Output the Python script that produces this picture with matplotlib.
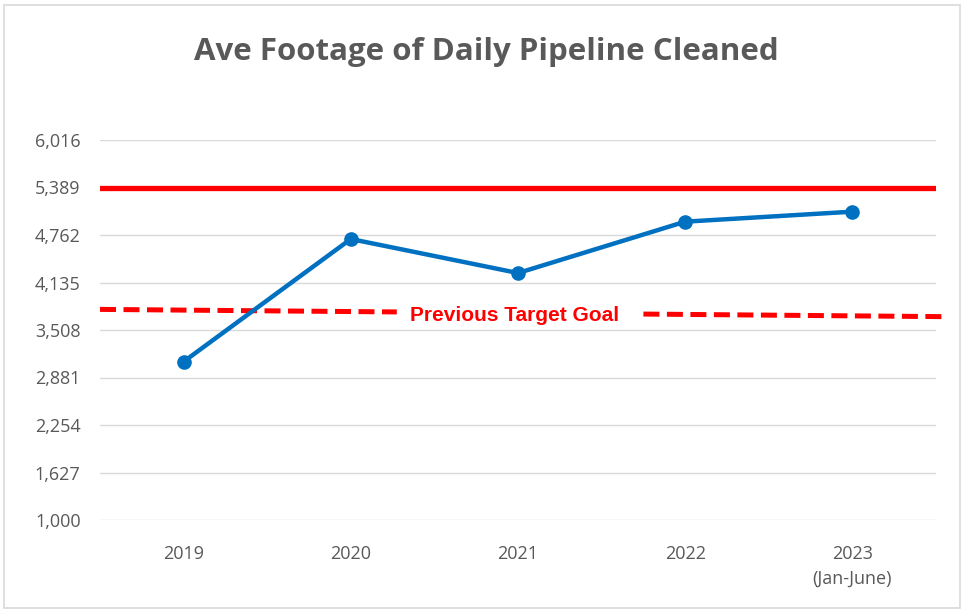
import matplotlib.pyplot as plt
from matplotlib.patches import Rectangle

# --- dados ---
anos = ["2019", "2020", "2021", "2022", "2023\n(Jan-June)"]
footage = [3090, 4709, 4260, 4938, 5070]
y_ticks = [1000, 1627, 2254, 2881, 3508, 4135, 4762, 5389, 6016]
meta_atual = 5389
meta_anterior = [3780, 3684]   # inicio e fim da linha tracejada (levemente inclinada)
# -------------

fig = plt.figure(figsize=(9.67, 6.11), dpi=100)
ax = fig.add_axes([100 / 967, 1 - 520 / 611, 836 / 967, 380 / 611])

# moldura do grafico
fig.patches.append(Rectangle((4 / 967, 3 / 611), 956 / 967, 603 / 611, transform=fig.transFigure,
                             fill=False, edgecolor="#D9D9D9", linewidth=1.2))

x = list(range(len(anos)))
ax.set_xlim(-0.5, len(anos) - 0.5)
ax.set_ylim(y_ticks[0], y_ticks[-1])
ax.set_yticks(y_ticks)
ax.set_yticklabels([f"{v:,}" for v in y_ticks])
ax.set_xticks(x)
ax.set_xticklabels(anos, linespacing=1.5)
ax.grid(axis="y", color="#D9D9D9", linewidth=1.0)
ax.set_axisbelow(True)
for s in ax.spines.values():
    s.set_visible(False)
ax.tick_params(length=0, labelsize=13, labelcolor="#595959", pad=18)
ax.tick_params(axis="y", pad=14)
for lab in ax.get_xticklabels() + ax.get_yticklabels():
    lab.set_fontfamily("Open Sans")

# meta atual (linha vermelha solida)
ax.axhline(meta_atual, color="#FF0000", linewidth=3.8, zorder=2)

# meta anterior (tracejada com texto no meio)
x0, x1 = -0.5, 4.56
def y_meta(xx):
    return meta_anterior[0] + (meta_anterior[1] - meta_anterior[0]) * (xx - x0) / (x1 - x0)
for a, b in [(x0, 1.275), (2.75, x1)]:
    ax.plot([a, b], [y_meta(a), y_meta(b)], color="#FF0000", linewidth=3.6,
            dashes=(3.2, 1.5), clip_on=False, zorder=2)
ax.text(1.98, y_meta(1.98) - 35, "Previous Target Goal", color="#FF0000", fontsize=15,
        fontweight="bold", family="Liberation Sans", ha="center", va="center")

# serie principal
ax.plot(x, footage, color="#0070C0", linewidth=3.2, marker="o", markersize=9.5, zorder=3)

fig.text(486 / 967, 1 - 52 / 611, "Ave Footage of Daily Pipeline Cleaned", ha="center", va="center",
         fontsize=22.5, fontweight="bold", color="#595959", family="Open Sans")

fig.savefig("out.png", dpi=100)
